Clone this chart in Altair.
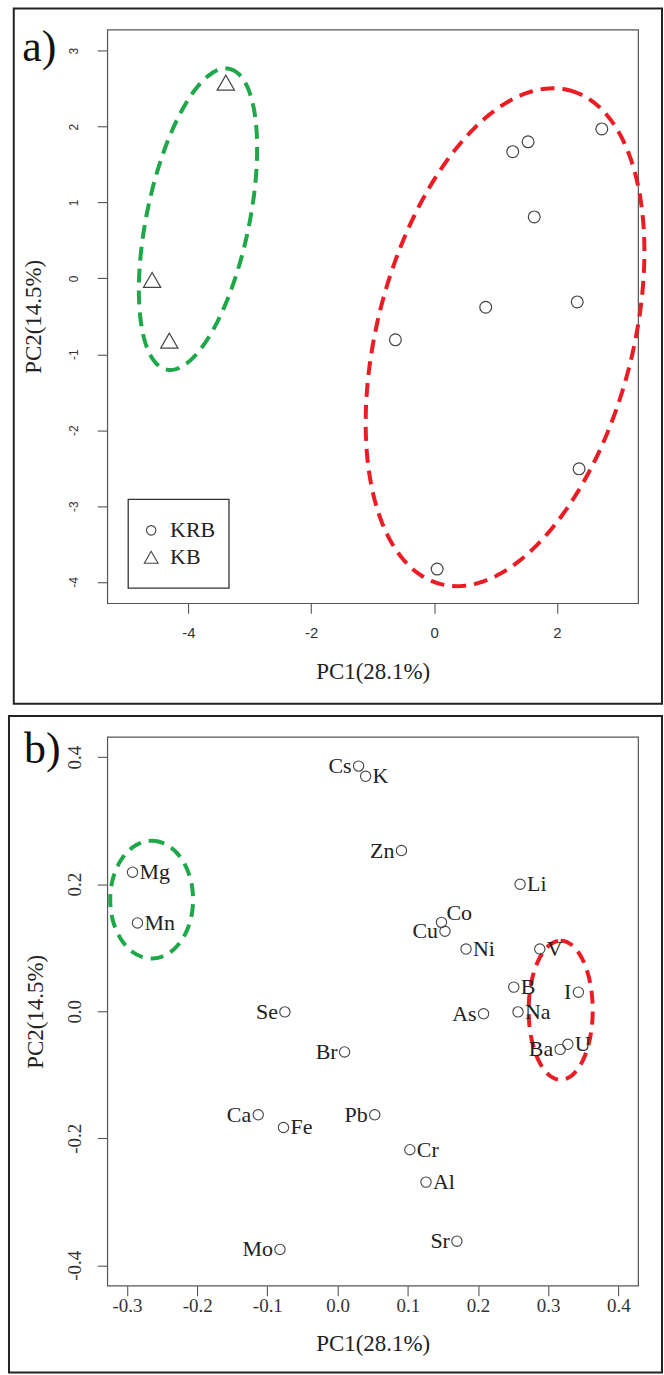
import altair as alt
import numpy as np
import pandas as pd

# ---------------- panel a: sample scores ----------------
krb_pc1 = [2.73, 1.53, 1.28, 1.63, 0.84, 2.33, -0.63, 2.36, 0.05]
krb_pc2 = [1.97, 1.80, 1.67, 0.81, -0.38, -0.31, -0.81, -2.51, -3.83]
kb_pc1 = [-3.39, -4.59, -4.31]
kb_pc2 = [2.58, -0.02, -0.82]
group_names = ["KRB", "KB"]

a_xticks = [-4, -2, 0, 2]
a_yticks = [-4, -3, -2, -1, 0, 1, 2, 3]

# ---------------- panel b: element loadings ----------------
elements = ["Cs", "K", "Zn", "Li", "Co", "Cu", "Ni", "V", "B", "I", "As", "Na", "Ba",
            "U", "Mg", "Mn", "Se", "Br", "Ca", "Fe", "Pb", "Cr", "Al", "Sr", "Mo"]
load_pc1 = [0.030, 0.040, 0.091, 0.260, 0.148, 0.153, 0.183, 0.288, 0.251, 0.343, 0.208, 0.257, 0.317,
            0.328, -0.292, -0.285, -0.075, 0.010, -0.113, -0.077, 0.053, 0.103, 0.126, 0.170, -0.082]
load_pc2 = [0.386, 0.370, 0.253, 0.200, 0.140, 0.126, 0.098, 0.098, 0.038, 0.030, -0.004, -0.001, -0.060,
            -0.052, 0.219, 0.139, -0.001, -0.064, -0.163, -0.183, -0.163, -0.218, -0.269, -0.362, -0.375]
label_side = ["L", "R", "L", "R", "A", "L", "R", "R", "R", "L", "L", "R", "L",
              "R", "R", "R", "L", "L", "L", "R", "L", "R", "R", "L", "L"]

b_xticks = [-0.3, -0.2, -0.1, 0.0, 0.1, 0.2, 0.3, 0.4]
b_yticks = [-0.4, -0.2, 0.0, 0.2, 0.4]

# axis limits (R style: limits extended by 4%)
a_xlim = [-5.32, 3.32]
a_ylim = [-4.28, 3.28]
b_xlim = [-0.328, 0.428]
b_ylim = [-0.432, 0.432]

# hand-drawn group ellipses: centre and two semi-axis vectors (data units)
ellipses_a = [
    dict(cx=-3.843, cy=0.780, ux=0.508, uy=1.982, vx=0.8175, vy=-0.1343, color="#1ea84a"),
    dict(cx=1.155, cy=-0.775, ux=1.044, uy=3.254, vx=2.014, vy=-0.414, color="#ec1c24"),
]
ellipses_b = [
    dict(cx=-0.2648, cy=0.1758, ux=0.0, uy=0.0926, vx=0.059, vy=0.0, color="#1ea84a"),
    dict(cx=0.3178, cy=0.0016, ux=0.0, uy=0.1094, vx=0.0456, vy=0.0, color="#ec1c24"),
]


def ellipse_df(e, n=240):
    t = np.linspace(0, 2 * np.pi, n + 1)
    return pd.DataFrame({
        "pc1": e["cx"] + np.cos(t) * e["ux"] + np.sin(t) * e["vx"],
        "pc2": e["cy"] + np.cos(t) * e["uy"] + np.sin(t) * e["vy"],
        "k": np.arange(n + 1),
    })


SERIF = "Liberation Serif"
SANS = "Liberation Sans"
INK = "#222222"
PT = "#444444"

one = alt.Data(values=[{}])


def hyphen_expr(fmt):
    return f"datum.value < 0 ? '-' + format(-datum.value, '{fmt}') : format(datum.value, '{fmt}')"


# ---------------- panel a ----------------
A_W, A_H = 532, 575
df_a = pd.DataFrame({
    "pc1": krb_pc1 + kb_pc1,
    "pc2": krb_pc2 + kb_pc2,
    "group": [group_names[0]] * len(krb_pc1) + [group_names[1]] * len(kb_pc1),
})

shape_scale = alt.Scale(domain=group_names, range=["circle", "triangle-up"])

xa = alt.X("pc1:Q", scale=alt.Scale(domain=a_xlim, nice=False, zero=False),
           axis=alt.Axis(values=a_xticks, title="PC1(28.1%)", labelExpr=hyphen_expr("d"),
                         labelFont=SANS, labelFontSize=15, labelPadding=12,
                         titleBaseline="alphabetic", titleY=75))
ya = alt.Y("pc2:Q", scale=alt.Scale(domain=a_ylim, nice=False, zero=False),
           axis=alt.Axis(values=a_yticks, title="PC2(14.5%)", labelExpr=hyphen_expr("d"),
                         labelFont=SANS, labelFontSize=12, labelAngle=270, labelAlign="center",
                         labelBaseline="alphabetic", labelPadding=20,
                         titleAngle=270, titleAlign="center", titleBaseline="alphabetic",
                         titleX=-67, titleY=A_H / 2))

a_layers = []
for e in ellipses_a:
    a_layers.append(
        alt.Chart(ellipse_df(e)).mark_line(color=e["color"], strokeWidth=4, strokeDash=[14, 8])
        .encode(x=xa, y=ya, order="k:Q")
    )
a_points = alt.Chart(df_a).transform_calculate(marker="datum.group").mark_point(
    filled=False, opacity=1, color=PT, strokeWidth=1.2).encode(
    x=xa, y=ya,
    shape=alt.Shape("group:N", scale=shape_scale, legend=None),
    size=alt.Size("marker:N", scale=alt.Scale(domain=group_names, range=[140, 300]), legend=None),
)

# boxed key in the lower-left corner (R legend())
key_box = alt.Chart(one).mark_rect(fill="white", stroke="#333333", strokeWidth=1.3).encode(
    x=alt.value(21), x2=alt.value(122), y=alt.value(471), y2=alt.value(560))
key_layers = [key_box]
key_sizes = [90, 190]
for i, g in enumerate(group_names):
    d = alt.Data(values=[{"group": g}])
    key_layers.append(
        alt.Chart(d).mark_point(filled=False, opacity=1, color=PT, strokeWidth=1.1, size=key_sizes[i])
        .encode(x=alt.value(44), y=alt.value(502 + 27 * i),
                shape=alt.Shape("group:N", scale=shape_scale, legend=None))
    )
    key_layers.append(
        alt.Chart(d).mark_text(font=SERIF, fontSize=22, color=INK, align="left", baseline="middle")
        .encode(x=alt.value(63), y=alt.value(502 + 27 * i), text="group:N")
    )

a_frame = alt.Chart(one).mark_rect(fillOpacity=0, stroke=INK, strokeWidth=2).encode(
    x=alt.value(-93.7), x2=alt.value(556), y=alt.value(-21), y2=alt.value(675.7))
a_tag = alt.Chart(one).mark_text(text="a)", font=SERIF, fontSize=44, align="center",
                                 baseline="alphabetic", color="#111").encode(
    x=alt.value(-68), y=alt.value(32))

panel_a = alt.layer(*a_layers, a_points, *key_layers, a_frame, a_tag).properties(
    width=A_W, height=A_H)

# ---------------- panel b ----------------
B_W, B_H = 532, 550
df_b = pd.DataFrame({"element": elements, "pc1": load_pc1, "pc2": load_pc2, "side": label_side})

xb = alt.X("pc1:Q", scale=alt.Scale(domain=b_xlim, nice=False, zero=False),
           axis=alt.Axis(values=b_xticks, title="PC1(28.1%)", labelExpr=hyphen_expr(".1f"),
                         labelFont=SERIF, labelFontSize=19, labelPadding=1,
                         titleBaseline="alphabetic", titleY=65))
yb = alt.Y("pc2:Q", scale=alt.Scale(domain=b_ylim, nice=False, zero=False),
           axis=alt.Axis(values=b_yticks, title="PC2(14.5%)", labelExpr=hyphen_expr(".1f"),
                         labelFont=SERIF, labelFontSize=19, labelAngle=270, labelAlign="center",
                         labelBaseline="alphabetic", labelPadding=17,
                         titleAngle=270, titleAlign="center", titleBaseline="alphabetic",
                         titleX=-65, titleY=B_H / 2))

b_layers = []
for e in ellipses_b:
    b_layers.append(
        alt.Chart(ellipse_df(e)).mark_line(color=e["color"], strokeWidth=4, strokeDash=[13, 8])
        .encode(x=xb, y=yb, order="k:Q")
    )
b_points = alt.Chart(df_b).mark_point(shape="circle", filled=False, opacity=1, color=PT,
                                      strokeWidth=1.1, size=107).encode(x=xb, y=yb)
base_txt = dict(font=SERIF, fontSize=22, color=INK, baseline="middle")
b_left = alt.Chart(df_b).transform_filter("datum.side == 'L'").mark_text(
    align="right", dx=-7, **base_txt).encode(x=xb, y=yb, text="element:N")
b_right = alt.Chart(df_b).transform_filter("datum.side == 'R'").mark_text(
    align="left", dx=7, **base_txt).encode(x=xb, y=yb, text="element:N")
b_above = alt.Chart(df_b).transform_filter("datum.side == 'A'").mark_text(
    align="left", dx=5, dy=-9, **base_txt).encode(x=xb, y=yb, text="element:N")
b_frame = alt.Chart(one).mark_rect(fillOpacity=0, stroke=INK, strokeWidth=2).encode(
    x=alt.value(-98.5), x2=alt.value(556), y=alt.value(-21), y2=alt.value(637))
b_tag = alt.Chart(one).mark_text(text="b)", font=SERIF, fontSize=44, align="center",
                                 baseline="alphabetic", color="#111").encode(
    x=alt.value(-65), y=alt.value(26))

panel_b = alt.layer(*b_layers, b_points, b_left, b_right, b_above, b_frame, b_tag).properties(
    width=B_W, height=B_H)

chart = alt.vconcat(panel_a, panel_b, spacing=134, bounds="flush").properties(
    padding={"left": 6.5, "top": 5, "right": 0, "bottom": 0},
    background="white",
).configure_view(
    stroke="#555555", strokeWidth=1.2
).configure_axis(
    domain=False, grid=False, tickColor="#555555", tickSize=10, tickWidth=1.1,
    labelColor="#333333", titleColor=INK, titleFont=SERIF, titleFontSize=23,
    titleFontWeight="normal",
)

chart.save("out.html", embed_options={"renderer": "svg", "actions": False})
